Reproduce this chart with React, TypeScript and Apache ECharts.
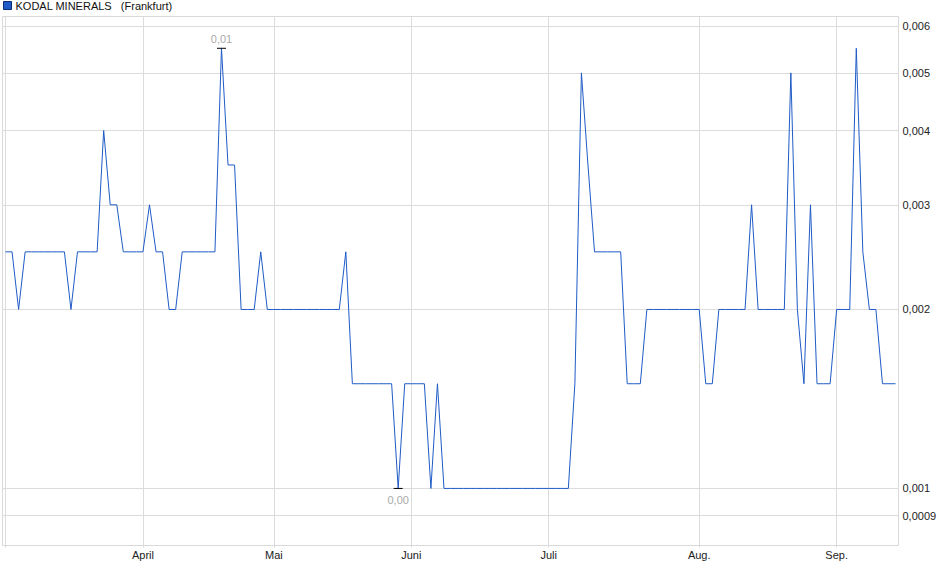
import { useEffect, useRef } from 'react';
import * as echarts from 'echarts';

const SERIES_NAME = 'KODAL MINERALS   (Frankfurt)';
const MONTHS = ['März', 'April', 'Mai', 'Juni', 'Juli', 'Aug.', 'Sep.'];
const MONTH_TRADING_DAYS = [21, 20, 21, 21, 23, 21, 10];
const Y_TICKS = [0.0009, 0.001, 0.002, 0.003, 0.004, 0.005, 0.006];

const PRICES_MAR = [0.0025, 0.0025, 0.002, 0.0025, 0.0025, 0.0025, 0.0025, 0.0025, 0.0025, 0.0025, 0.002, 0.0025, 0.0025, 0.0025, 0.0025, 0.004, 0.003, 0.003, 0.0025, 0.0025, 0.0025];
const PRICES_APR = [0.0025, 0.003, 0.0025, 0.0025, 0.002, 0.002, 0.0025, 0.0025, 0.0025, 0.0025, 0.0025, 0.0025, 0.0055, 0.0035, 0.0035, 0.002, 0.002, 0.002, 0.0025, 0.002];
const PRICES_MAY = [0.002, 0.002, 0.002, 0.002, 0.002, 0.002, 0.002, 0.002, 0.002, 0.002, 0.002, 0.0025, 0.0015, 0.0015, 0.0015, 0.0015, 0.0015, 0.0015, 0.0015, 0.001, 0.0015];
const PRICES_JUN = [0.0015, 0.0015, 0.0015, 0.001, 0.0015, 0.001, 0.001, 0.001, 0.001, 0.001, 0.001, 0.001, 0.001, 0.001, 0.001, 0.001, 0.001, 0.001, 0.001, 0.001, 0.001];
const PRICES_JUL = [0.001, 0.001, 0.001, 0.001, 0.0015, 0.005, 0.0035, 0.0025, 0.0025, 0.0025, 0.0025, 0.0025, 0.0015, 0.0015, 0.0015, 0.002, 0.002, 0.002, 0.002, 0.002, 0.002, 0.002, 0.002];
const PRICES_AUG = [0.002, 0.0015, 0.0015, 0.002, 0.002, 0.002, 0.002, 0.002, 0.003, 0.002, 0.002, 0.002, 0.002, 0.002, 0.005, 0.002, 0.0015, 0.003, 0.0015, 0.0015, 0.0015];
const PRICES_SEP = [0.002, 0.002, 0.002, 0.0055, 0.0025, 0.002, 0.002, 0.0015, 0.0015, 0.0015];

const PRICES = [
  ...PRICES_MAR, ...PRICES_APR, ...PRICES_MAY, ...PRICES_JUN,
  ...PRICES_JUL, ...PRICES_AUG, ...PRICES_SEP,
];

const FONT = "'Liberation Sans', Arial, sans-serif";

function fmtComma(v: number): string {
  return String(Number(v.toPrecision(6))).replace('.', ',');
}

export default function App() {
  const ref = useRef<HTMLDivElement>(null);

  useEffect(() => {
    if (!ref.current) return;
    const chart = echarts.init(ref.current, undefined, { renderer: 'svg' });

    const monthStarts: number[] = [];
    let acc = 0;
    MONTH_TRADING_DAYS.forEach((n) => {
      monthStarts.push(acc);
      acc += n;
    });

    const data = PRICES.map((v, i) => [i, Math.log10(v)]);
    const maxVal = Math.max(...PRICES);
    const minVal = Math.min(...PRICES);
    const maxIdx = PRICES.indexOf(maxVal);
    const minIdx = PRICES.indexOf(minVal);
    const markLabel = {
      show: true,
      fontSize: 11,
      fontFamily: FONT,
      color: '#a9a9a9',
      formatter: (p: any) => Number(p.value).toFixed(2).replace('.', ','),
    };

    chart.setOption({
      animation: false,
      backgroundColor: '#ffffff',
      legend: {
        show: true,
        left: 3,
        top: 0,
        padding: 0,
        itemWidth: 8,
        itemHeight: 8,
        itemGap: 10,
        data: [{ name: SERIES_NAME, icon: 'rect' }],
        itemStyle: { borderColor: '#0b2c78', borderWidth: 1 },
        textStyle: { fontSize: 11, fontFamily: FONT, color: '#111', padding: [0, 0, 0, -1] },
      },
      grid: {
        show: true,
        left: 2.5,
        right: 41.5,
        top: 16.5,
        bottom: 33.5,
        borderColor: '#d9d9d9',
        borderWidth: 1,
        containLabel: false,
      },
      xAxis: {
        type: 'value',
        min: -0.46,
        max: 136.45,
        axisLine: { show: false },
        axisTick: {
          show: true,
          length: 2,
          customValues: monthStarts,
          lineStyle: { color: '#d9d9d9' },
        },
        splitLine: { show: true, lineStyle: { color: '#dcdcdc', width: 1 } },
        axisLabel: {
          customValues: monthStarts.slice(1),
          formatter: (v: number) => MONTHS[monthStarts.indexOf(Math.round(v))] ?? '',
          fontSize: 11,
          fontFamily: FONT,
          color: '#222',
          margin: 4,
        },
      },
      yAxis: {
        type: 'value',
        position: 'right',
        min: Math.log10(0.0008017),
        max: Math.log10(0.0062206),
        axisLine: { show: false },
        axisTick: { show: false, customValues: Y_TICKS.map((t) => Math.log10(t)) },
        splitLine: { show: true, lineStyle: { color: '#dcdcdc', width: 1 } },
        axisLabel: {
          customValues: Y_TICKS.map((t) => Math.log10(t)),
          formatter: (v: number) => fmtComma(Math.pow(10, v)),
          fontSize: 11,
          fontFamily: FONT,
          color: '#222',
          margin: 4,
        },
      },
      series: [
        {
          name: SERIES_NAME,
          type: 'line',
          data,
          showSymbol: false,
          symbol: 'none',
          color: '#1f5bc6',
          itemStyle: { color: '#1f5bc6' },
          lineStyle: { color: '#1f5bc6', width: 1 },
          markPoint: {
            symbol: 'rect',
            symbolSize: [9, 1],
            itemStyle: { color: '#000' },
            data: [
              {
                coord: [maxIdx, Math.log10(maxVal)],
                value: maxVal,
                label: { ...markLabel, position: 'top', distance: 3 },
              },
              {
                coord: [minIdx, Math.log10(minVal)],
                value: minVal,
                label: { ...markLabel, position: 'bottom', distance: 6 },
              },
            ],
          },
        },
      ],
    });

    return () => chart.dispose();
  }, []);

  return (
    <div
      ref={ref}
      style={{ position: 'fixed', left: 0, top: 0, width: 940, height: 579, background: '#fff' }}
    />
  );
}
